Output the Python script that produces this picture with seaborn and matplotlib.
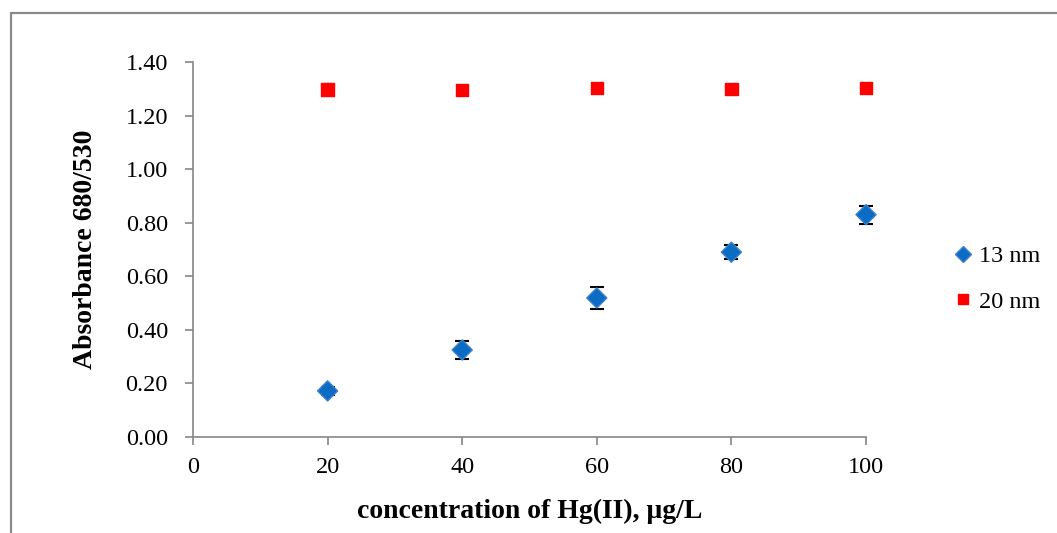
import matplotlib
matplotlib.use("Agg")
import matplotlib.pyplot as plt
import seaborn as sns
import pandas as pd
from matplotlib.lines import Line2D

# Data
conc = [20, 40, 60, 80, 100]
abs_13nm = [0.172, 0.325, 0.519, 0.690, 0.830]
err_13nm = [0.015, 0.034, 0.040, 0.027, 0.034]
abs_20nm = [1.298, 1.296, 1.302, 1.300, 1.302]
series_labels = ["13 nm", "20 nm"]
yticks = [0.0, 0.2, 0.4, 0.6, 0.8, 1.0, 1.2, 1.4]
xticks = [0, 20, 40, 60, 80, 100]

df = pd.DataFrame({
    "conc": conc * 2,
    "absorbance": abs_13nm + abs_20nm,
    "series": [series_labels[0]] * len(conc) + [series_labels[1]] * len(conc),
})

sns.set_style("white")
plt.rcParams["font.family"] = ["Liberation Serif", "DejaVu Serif"]
plt.rcParams["text.color"] = "black"
plt.rcParams["axes.labelcolor"] = "black"

fig = plt.figure(figsize=(10.57, 5.33), dpi=100)
ax = fig.add_axes([193 / 1057, 1 - 437 / 533, (866 - 193) / 1057, (437 - 62) / 533])

gray = "#868686"

ax.errorbar(conc, abs_13nm, yerr=err_13nm, fmt="none", ecolor="black",
            elinewidth=1.2, capsize=4.7, capthick=1.5, zorder=2, clip_on=False)

sns.scatterplot(data=df, x="conc", y="absorbance", hue="series", style="series",
                markers={"13 nm": "D", "20 nm": "s"},
                palette={"13 nm": "#0A6CC2", "20 nm": "#FF0000"},
                s=105, ax=ax, zorder=3, legend=False,
                edgecolor=None, clip_on=False)
coll = ax.collections[-1]
colors = ["#3F80CC" if s == "13 nm" else "#FF0000" for s in df["series"]]
sizes = [105 if s == "13 nm" else 80 for s in df["series"]]
coll.set_edgecolors(colors)
coll.set_sizes(sizes)
coll.set_linewidths(1.0)
coll.set_clip_on(False)

ax.set_xlim(0, 100)
ax.set_ylim(0, 1.4)
ax.set_xticks(xticks)
ax.set_yticks(yticks)
ax.set_yticklabels([f"{v:.2f}" for v in yticks])
ax.set_xticklabels([str(v) for v in xticks])

for side in ["top", "right"]:
    ax.spines[side].set_visible(False)
for side in ["left", "bottom"]:
    ax.spines[side].set_color(gray)
    ax.spines[side].set_linewidth(1.2)

ax.tick_params(axis="both", which="major", direction="out", color=gray, width=1.2,
               labelsize=17.5, labelcolor="black", bottom=True, left=True)
ax.tick_params(axis="y", length=6, pad=12)
ax.tick_params(axis="x", length=5.5, pad=9)

ax.set_xlabel("concentration of Hg(II), μg/L", fontsize=20, fontweight="bold",
              labelpad=15, color="black")
ax.set_ylabel("Absorbance 680/530", fontsize=20, fontweight="bold", labelpad=20,
              color="black")

handles = [
    Line2D([], [], marker="D", linestyle="none", markersize=8.5, markerfacecolor="#0A6CC2",
           markeredgecolor="#3F80CC"),
    Line2D([], [], marker="s", linestyle="none", markersize=7, markerfacecolor="#FF0000",
           markeredgecolor="#FF0000"),
]
leg = fig.legend(handles, series_labels, loc="center left",
                 bbox_to_anchor=(941 / 1057, 1 - 279 / 533), frameon=False, fontsize=17.5,
                 handlelength=0.8, handletextpad=0.25, labelspacing=0.95, borderpad=0)
for t in leg.get_texts():
    t.set_color("black")

# outer frame (top and left edges visible)
fig.add_artist(Line2D([11 / 1057, 11 / 1057], [0, 1 - 13 / 533], transform=fig.transFigure,
                      color="#8a8a8a", linewidth=1.6))
fig.add_artist(Line2D([11 / 1057, 1], [1 - 13 / 533, 1 - 13 / 533], transform=fig.transFigure,
                      color="#8a8a8a", linewidth=1.6))

fig.savefig("out.png", dpi=100)
